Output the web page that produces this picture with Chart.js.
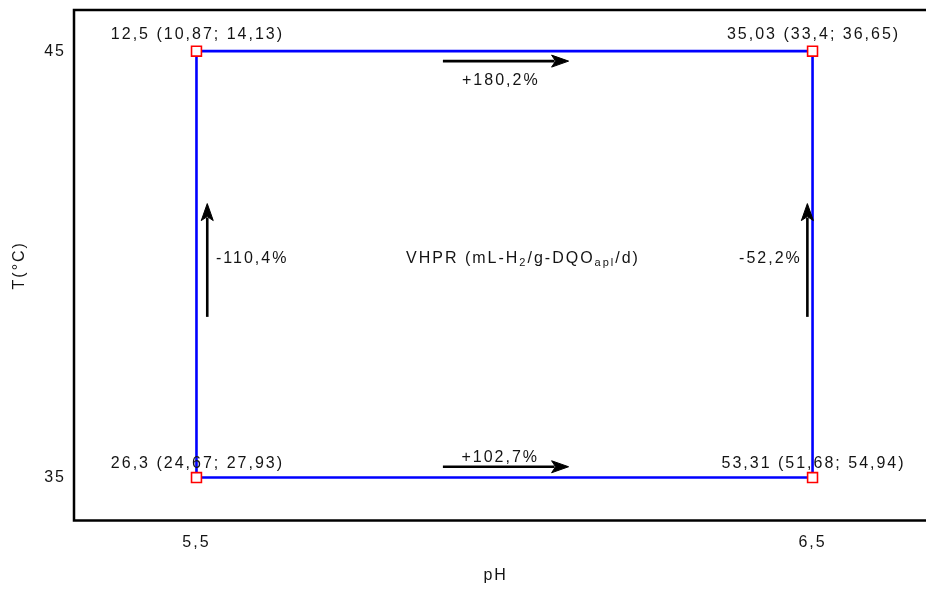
<!DOCTYPE html>
<html>
<head>
<meta charset="utf-8">
<script src="https://cdn.jsdelivr.net/npm/chart.js@4.4.1/dist/chart.umd.min.js"></script>
<style>
  html, body { margin: 0; padding: 0; background: #ffffff; }
  #wrap { width: 926px; height: 589px; }
</style>
</head>
<body>
<div id="wrap"><canvas id="c" width="926" height="589"></canvas></div>
<script>
// Factor levels of the 2x2 design
const phLevels = [5.5, 6.5];
const tempLevels = [35, 45];

// Design corners (pH, T) with VHPR mean and confidence interval
const cornerPH = [5.5, 5.5, 6.5, 6.5];
const cornerT = [35, 45, 45, 35];
const vhpr = [26.3, 12.5, 35.03, 53.31];
const vhprLow = [24.67, 10.87, 33.4, 51.68];
const vhprHigh = [27.93, 14.13, 36.65, 54.94];

// Relative changes along each edge: top, bottom, left, right
const changeLabels = ['+180,2%', '+102,7%', '-110,4%', '-52,2%'];

const FONT = 'Liberation Sans, Arial, sans-serif';
const TEXT = '#141414';
const fmt = v => String(v).replace('.', ',');

// Closed path around the design square
const loopOrder = [0, 1, 2, 3, 0];
const loopPoints = loopOrder.map(i => ({ x: cornerPH[i], y: cornerT[i] }));
const cornerPoints = cornerPH.map((p, i) => ({ x: p, y: cornerT[i] }));

// Arrows and their labels, in axis units
const arrowLayout = [
  { from: [5.900, 44.766], to: [6.104, 44.766], label: 0, at: [5.994, 44.313], align: 'center' },
  { from: [5.900, 35.253], to: [6.104, 35.253], label: 1, at: [5.993, 35.473], align: 'center' },
  { from: [5.5175, 38.768], to: [5.5175, 41.425], label: 2, at: [5.5317, 40.136], align: 'left' },
  { from: [6.4916, 38.768], to: [6.4916, 41.425], label: 3, at: [6.4825, 40.136], align: 'right' }
];
const centerTitleAt = [6.03, 40.143];
const centerTitle = [
  { t: 'VHPR (mL-H' }, { t: '2', sub: true }, { t: '/g-DQO' }, { t: 'apl', sub: true }, { t: '/d)' }
];

function drawArrow(ctx, x1, y1, x2, y2) {
  const ang = Math.atan2(y2 - y1, x2 - x1);
  const headLen = 17, headHalf = 6;
  const cos = Math.cos(ang), sin = Math.sin(ang);
  const bx = x2 - headLen * cos, by = y2 - headLen * sin;
  ctx.beginPath();
  ctx.moveTo(x1, y1);
  ctx.lineTo(bx + 3 * cos, by + 3 * sin);
  ctx.lineWidth = 2.6;
  ctx.strokeStyle = '#000';
  ctx.stroke();
  ctx.beginPath();
  ctx.moveTo(x2, y2);
  ctx.lineTo(bx - headHalf * sin, by + headHalf * cos);
  ctx.lineTo(bx + 4 * cos, by + 4 * sin);
  ctx.lineTo(bx + headHalf * sin, by - headHalf * cos);
  ctx.closePath();
  ctx.fillStyle = '#000';
  ctx.fill();
  ctx.lineWidth = 1;
  ctx.stroke();
}

function drawRich(ctx, parts, cx, cy) {
  const big = '16px ' + FONT, small = '11px ' + FONT;
  let total = 0;
  parts.forEach(p => { ctx.font = p.sub ? small : big; p.w = ctx.measureText(p.t).width; total += p.w; });
  let x = cx - total / 2;
  ctx.textAlign = 'left';
  ctx.textBaseline = 'middle';
  parts.forEach(p => {
    ctx.font = p.sub ? small : big;
    ctx.fillText(p.t, x, p.sub ? cy + 5 : cy);
    x += p.w;
  });
}

const annotations = {
  id: 'annotations',
  beforeDraw(chart) {
    chart.ctx.letterSpacing = '2px';
  },
  afterDraw(chart) {
    const { ctx, chartArea, scales: { x, y } } = chart;
    ctx.save();
    ctx.letterSpacing = '2px';

    // frame: left, top and bottom edges
    ctx.strokeStyle = '#000';
    ctx.lineWidth = 2.5;
    ctx.beginPath();
    ctx.moveTo(chart.width, chartArea.top);
    ctx.lineTo(chartArea.left, chartArea.top);
    ctx.lineTo(chartArea.left, chartArea.bottom);
    ctx.lineTo(chart.width, chartArea.bottom);
    ctx.stroke();

    // corner value labels
    ctx.fillStyle = TEXT;
    ctx.font = '16px ' + FONT;
    ctx.textAlign = 'center';
    ctx.textBaseline = 'middle';
    const tMax = Math.max(...tempLevels);
    cornerPH.forEach((p, i) => {
      const px = x.getPixelForValue(p);
      const py = y.getPixelForValue(cornerT[i]);
      const txt = fmt(vhpr[i]) + ' (' + fmt(vhprLow[i]) + '; ' + fmt(vhprHigh[i]) + ')';
      ctx.fillText(txt, px + 1, py - (cornerT[i] === tMax ? 17 : 14));
    });

    // change arrows with percentages
    arrowLayout.forEach(a => {
      drawArrow(ctx,
        x.getPixelForValue(a.from[0]), y.getPixelForValue(a.from[1]),
        x.getPixelForValue(a.to[0]), y.getPixelForValue(a.to[1]));
      ctx.fillStyle = TEXT;
      ctx.font = '16px ' + FONT;
      ctx.textAlign = a.align;
      ctx.textBaseline = 'middle';
      ctx.fillText(changeLabels[a.label], x.getPixelForValue(a.at[0]), y.getPixelForValue(a.at[1]));
    });

    // response name in the middle
    ctx.fillStyle = TEXT;
    drawRich(ctx, centerTitle, x.getPixelForValue(centerTitleAt[0]), y.getPixelForValue(centerTitleAt[1]));
    ctx.restore();
  }
};

new Chart(document.getElementById('c'), {
  type: 'scatter',
  data: {
    datasets: [
      {
        label: 'corners',
        data: cornerPoints,
        showLine: false,
        pointStyle: 'rect',
        pointRadius: 7,
        pointBorderWidth: 1.6,
        pointBorderColor: '#ff0000',
        pointBackgroundColor: '#ffffff'
      },
      {
        label: 'path',
        data: loopPoints,
        showLine: true,
        borderColor: '#0000ff',
        borderWidth: 2.6,
        pointRadius: 0,
        fill: false,
        tension: 0
      }
    ]
  },
  options: {
    responsive: false,
    animation: false,
    devicePixelRatio: 1,
    layout: { padding: { top: 10, left: 0, right: 0, bottom: 0 } },
    plugins: { legend: { display: false }, tooltip: { enabled: false } },
    scales: {
      x: {
        type: 'linear',
        min: 5.3012,
        max: 6.6702,
        afterBuildTicks: s => { s.ticks = phLevels.map(v => ({ value: v })); },
        afterFit: s => { s.height = 68.5; s.paddingLeft = 0; s.paddingRight = 0; },
        grid: { display: false, drawTicks: false },
        border: { display: false },
        ticks: {
          callback: v => fmt(v),
          color: TEXT,
          font: { family: FONT, size: 16 },
          padding: 12,
          autoSkip: false,
          maxRotation: 0
        },
        title: {
          display: true,
          text: 'pH',
          color: TEXT,
          font: { family: FONT, size: 16 },
          padding: { top: 0, bottom: 4 }
        }
      },
      y: {
        type: 'linear',
        min: 33.9925,
        max: 45.965,
        afterBuildTicks: s => { s.ticks = tempLevels.map(v => ({ value: v })); },
        afterFit: s => { s.width = 74; s.paddingTop = 0; s.paddingBottom = 0; },
        grid: { display: false, drawTicks: false },
        border: { display: false },
        ticks: {
          callback: v => fmt(v),
          color: TEXT,
          font: { family: FONT, size: 16 },
          padding: 8
        },
        title: {
          display: true,
          text: 'T(°C)',
          color: TEXT,
          font: { family: FONT, size: 16 },
          padding: { top: 10, bottom: 0 }
        }
      }
    }
  },
  plugins: [annotations]
});
</script>
</body>
</html>
